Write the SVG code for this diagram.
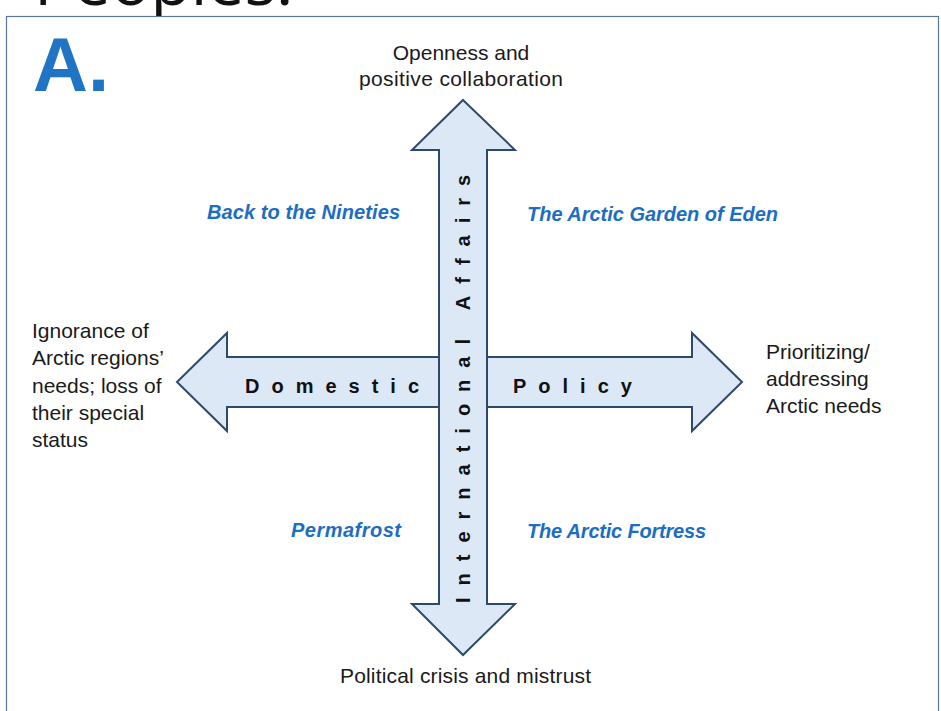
<svg xmlns="http://www.w3.org/2000/svg" width="941" height="711" viewBox="0 0 941 711">
<style>
.lbl{font-family:"Liberation Sans",Arial,sans-serif;font-size:21px;fill:#1a1a1a}
.quad{font-family:"Liberation Sans",Arial,sans-serif;font-size:20px;font-weight:bold;font-style:italic;fill:#1b6ec2}
.axis{font-family:"Liberation Sans",Arial,sans-serif;font-size:20px;font-weight:bold;fill:#111;letter-spacing:12px}
.arrow{fill:#dce8f5;stroke:#2e4a6b;stroke-width:2;stroke-linejoin:miter}
</style>
<rect x="0" y="0" width="941" height="711" fill="#fff"/>
<text x="34" y="5" font-family="'Open Sans',sans-serif" font-size="66" font-weight="500" fill="#111">Peoples.</text>
<rect x="6.5" y="16.5" width="932" height="710" fill="#fff" stroke="#5a7698" stroke-width="1.2"/>
<g id="title-letter">
<text x="33" y="91" font-family="'Liberation Sans',Arial,sans-serif" font-size="76" font-weight="bold" fill="#1f74c4">A.</text>
</g>
<g id="connectors">
<g id="domestic-policy-arrow">
<polygon class="arrow" points="177,382 227,333 227,357 692,357 692,333 742,382 692,431 692,407 227,407 227,431"/>
<text class="axis" x="245" y="393">Domestic</text>
<text class="axis" x="513" y="393">Policy</text>
</g>
<g id="international-arrow">
<polygon class="arrow" points="463,100 515,150 487,150 487,604 515,604 463,655 412,604 439,604 439,150 412,150"/>
<text class="axis" transform="translate(470,603) rotate(-90)">International Affairs</text>
</g>
</g>
<g id="top-label">
<text class="lbl" x="461" y="60" text-anchor="middle">Openness and</text>
<text class="lbl" x="461" y="86" text-anchor="middle" textLength="204">positive collaboration</text>
</g>
<g id="bottom-label">
<text class="lbl" x="340" y="683" textLength="251">Political crisis and mistrust</text>
</g>
<g id="left-label">
<text class="lbl" x="32" y="338">Ignorance of</text>
<text class="lbl" x="32" y="365">Arctic regions’</text>
<text class="lbl" x="32" y="393">needs; loss of</text>
<text class="lbl" x="32" y="420">their special</text>
<text class="lbl" x="32" y="447">status</text>
</g>
<g id="right-label">
<text class="lbl" x="766" y="359">Prioritizing/</text>
<text class="lbl" x="766" y="386">addressing</text>
<text class="lbl" x="766" y="413">Arctic needs</text>
</g>
<g id="back-to-the-nineties">
<text class="quad" x="207" y="219" textLength="193">Back to the Nineties</text>
</g>
<g id="arctic-garden-of-eden">
<text class="quad" x="527" y="221" textLength="251">The Arctic Garden of Eden</text>
</g>
<g id="permafrost">
<text class="quad" x="291" y="537" textLength="110">Permafrost</text>
</g>
<g id="arctic-fortress">
<text class="quad" x="527" y="538" textLength="179">The Arctic Fortress</text>
</g>
</svg>
